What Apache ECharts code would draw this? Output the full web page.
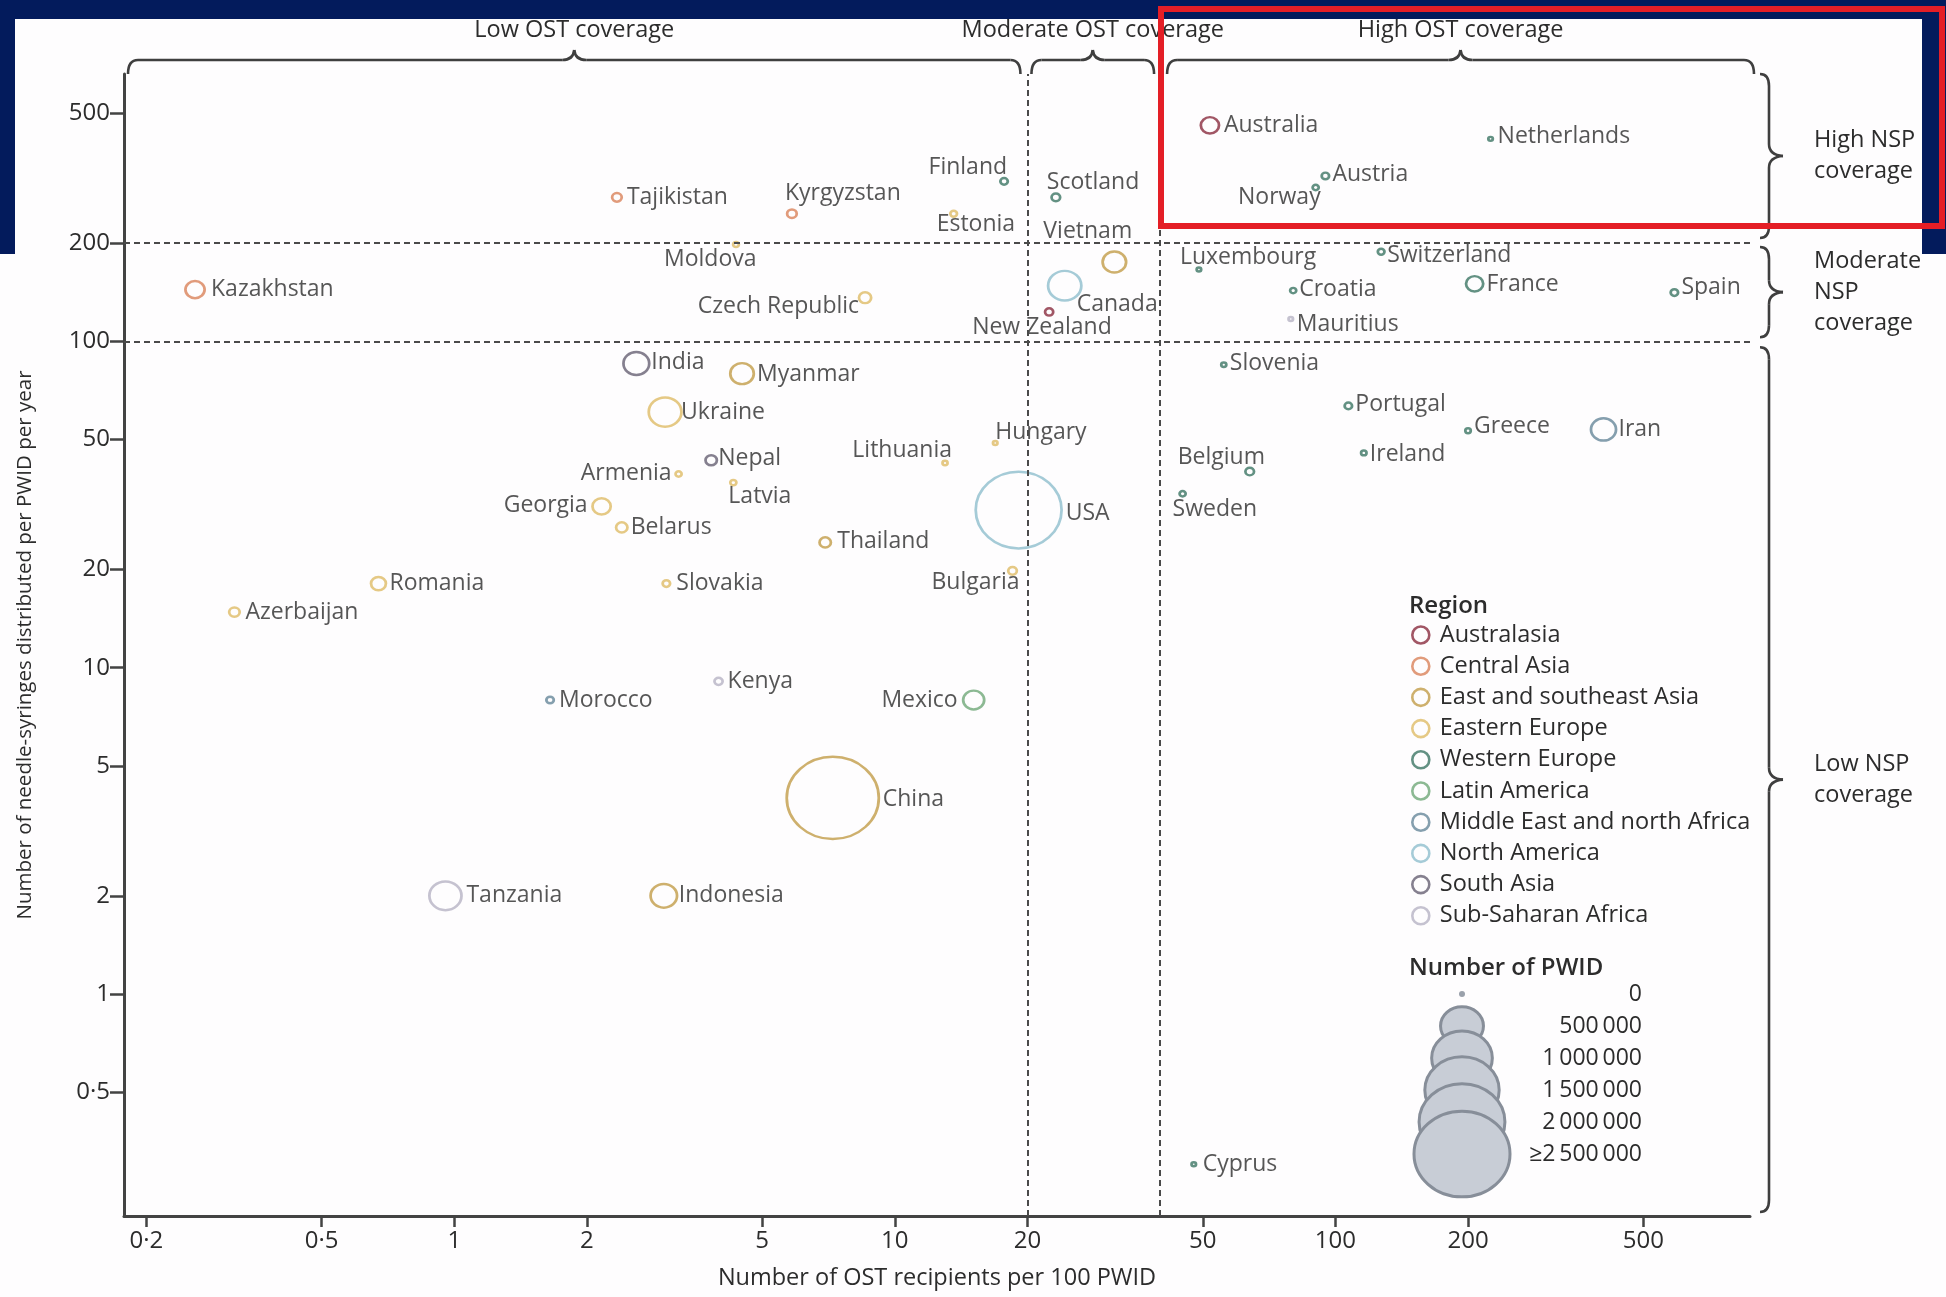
<!DOCTYPE html>
<html>
<head>
<meta charset="utf-8">
<script src="https://cdn.jsdelivr.net/npm/echarts@6/dist/echarts.min.js"></script>
<style>
  html, body { margin: 0; padding: 0; background: #fff; }
  #chart { width: 1946px; height: 1297px; }
</style>
</head>
<body>
<div id="chart"></div>
<script>
// Needle-syringe programme (NSP) coverage against opioid substitution therapy (OST) coverage, by country.

const countries = [
  'Tajikistan', 'Kyrgyzstan', 'Kazakhstan', 'Finland', 'Estonia', 'Moldova', 'Scotland', 'Vietnam',
  'Canada', 'New Zealand', 'Czech Republic', 'Australia', 'Netherlands', 'Austria', 'Norway',
  'Luxembourg', 'Switzerland', 'Croatia', 'France', 'Spain', 'Mauritius', 'Slovenia', 'Portugal',
  'Greece', 'Iran', 'Ireland', 'Belgium', 'Sweden', 'Cyprus', 'India', 'Myanmar', 'Ukraine', 'Nepal',
  'Armenia', 'Latvia', 'Lithuania', 'Hungary', 'Georgia', 'Belarus', 'USA', 'Thailand', 'Bulgaria',
  'Romania', 'Slovakia', 'Azerbaijan', 'Morocco', 'Kenya', 'Mexico', 'China', 'Tanzania', 'Indonesia'
];

// OST recipients per 100 PWID
const ostPer100 = [
  2.34, 5.84, 0.258, 17.7, 13.6, 4.36, 23.2, 31.5,
  24.3, 22.4, 8.56, 51.9, 225, 94.9, 90.2,
  49, 127, 80.2, 207, 588, 79.2, 55.8, 107,
  200, 406, 116, 63.9, 45.0, 47.7, 2.59, 4.50, 3.01, 3.83,
  3.23, 4.30, 13.0, 16.9, 2.16, 2.40, 19.1, 6.95, 18.5,
  0.673, 3.03, 0.317, 1.65, 3.98, 15.1, 7.23, 0.955, 2.99
];

// Needle-syringes distributed per PWID per year
const syringesPerPwid = [
  276, 246, 144, 309, 246, 198, 276, 175,
  148, 123, 136, 459, 417, 321, 296,
  166, 188, 143, 150, 141, 117, 84.7, 63.4,
  53.2, 53.7, 45.5, 39.9, 34.1, 0.301, 85.5, 79.6, 60.7, 43.2,
  39.2, 36.9, 42.4, 48.8, 31.2, 26.9, 30.4, 24.2, 19.8,
  18.1, 18.1, 14.8, 7.96, 9.08, 7.96, 3.99, 2.0, 2.0
];

// Estimated number of people who inject drugs
const pwidCount = [
  25000, 25000, 100000, 15000, 12000, 9000, 20000, 150000,
  300000, 18000, 40000, 90000, 5000, 15000, 10000,
  4000, 12000, 10000, 80000, 15000, 5000, 7000, 15000,
  8000, 170000, 8000, 20000, 10000, 5000, 180000, 150000, 290000, 35000,
  10000, 10000, 7000, 5000, 90000, 35000, 2000000, 35000, 20000,
  60000, 15000, 30000, 15000, 18000, 120000, 2300000, 280000, 190000
];

const countryRegion = [
  'Central Asia', 'Central Asia', 'Central Asia', 'Western Europe', 'Eastern Europe', 'Eastern Europe', 'Western Europe', 'East and southeast Asia',
  'North America', 'Australasia', 'Eastern Europe', 'Australasia', 'Western Europe', 'Western Europe', 'Western Europe',
  'Western Europe', 'Western Europe', 'Western Europe', 'Western Europe', 'Western Europe', 'Sub-Saharan Africa', 'Western Europe', 'Western Europe',
  'Western Europe', 'Middle East and north Africa', 'Western Europe', 'Western Europe', 'Western Europe', 'Western Europe', 'South Asia', 'East and southeast Asia', 'Eastern Europe', 'South Asia',
  'Eastern Europe', 'Eastern Europe', 'Eastern Europe', 'Eastern Europe', 'Eastern Europe', 'Eastern Europe', 'North America', 'East and southeast Asia', 'Eastern Europe',
  'Eastern Europe', 'Eastern Europe', 'Eastern Europe', 'Middle East and north Africa', 'Sub-Saharan Africa', 'Latin America', 'East and southeast Asia', 'Sub-Saharan Africa', 'East and southeast Asia'
];

const regions = [
  'Australasia', 'Central Asia', 'East and southeast Asia', 'Eastern Europe', 'Western Europe',
  'Latin America', 'Middle East and north Africa', 'North America', 'South Asia', 'Sub-Saharan Africa'
];

const xTicks = [0.2, 0.5, 1, 2, 5, 10, 20, 50, 100, 200, 500];
const yTicks = [0.5, 1, 2, 5, 10, 20, 50, 100, 200, 500];
const ostThresholds = [20, 40];
const nspThresholds = [100, 200];
const ostBands = ['Low OST coverage', 'Moderate OST coverage', 'High OST coverage'];
const nspBands = ['High NSP\ncoverage', 'Moderate\nNSP\ncoverage', 'Low NSP\ncoverage'];
const pwidLegendSteps = [0, 500000, 1000000, 1500000, 2000000, 2500000];
const pwidLegendLabels = ['0', '500\u2009000', '1\u2009000\u2009000', '1\u2009500\u2009000', '2\u2009000\u2009000', '\u22652\u2009500\u2009000'];

// ---- styling ----
const regionColors = ['#8a2c3e', '#d9825a', '#c29c48', '#dfbb66', '#3c7564', '#6fa878', '#67879a', '#8fbecd', '#666073', '#b6b3c4'];
const FONT = "'Open Sans', 'DejaVu Sans', sans-serif";
const TEXT = '#2c2c2c';
const INK = '#434343';
const ELLIPSE = 'path://M0,50A50,50 0 1,1 100,50A50,50 0 1,1 0,50Z';
const ASPECT = 1.12;

// label anchor: [align, dx, dy] relative to the bubble centre
const labelPlacement = {
  'Tajikistan': ['left', 10, 0], 'Kyrgyzstan': ['left', -7, -20], 'Kazakhstan': ['left', 16, 0],
  'Finland': ['right', 3, -14], 'Estonia': ['left', -17, 11], 'Moldova': ['left', -72, 15],
  'Scotland': ['left', -9, -15], 'Vietnam': ['left', -71, -31], 'Canada': ['left', 12, 19],
  'New Zealand': ['left', -77, 16], 'Czech Republic': ['right', -6, 9], 'Australia': ['left', 14, 0],
  'Netherlands': ['left', 7, -2], 'Austria': ['left', 7, -2], 'Norway': ['right', 5, 10],
  'Luxembourg': ['left', -19, -12], 'Switzerland': ['left', 6, 4], 'Croatia': ['left', 6, -1],
  'France': ['left', 12, 1], 'Spain': ['left', 7, -5], 'Mauritius': ['left', 6, 5],
  'Slovenia': ['left', 6, -1], 'Portugal': ['left', 7, -1], 'Greece': ['left', 6, -4],
  'Iran': ['left', 15, 0], 'Ireland': ['left', 6, 2], 'Belgium': ['left', -72, -14],
  'Sweden': ['left', -10, 16], 'Cyprus': ['left', 9, 0], 'India': ['left', 15, -1],
  'Myanmar': ['left', 15, 1], 'Ukraine': ['left', 16, 0], 'Nepal': ['left', 7, -2],
  'Armenia': ['right', -7, -1], 'Latvia': ['left', -5, 14], 'Lithuania': ['right', 7, -12],
  'Hungary': ['left', 0, -11], 'Georgia': ['right', -14, -1], 'Belarus': ['left', 9, 0],
  'USA': ['left', 47, 3], 'Thailand': ['left', 12, -1], 'Bulgaria': ['right', 7, 12],
  'Romania': ['left', 11, 0], 'Slovakia': ['left', 10, 0], 'Azerbaijan': ['left', 11, 0],
  'Morocco': ['left', 9, 0], 'Kenya': ['left', 9, 0], 'Mexico': ['right', -16, 0],
  'China': ['left', 50, 2], 'Tanzania': ['left', 21, 0], 'Indonesia': ['left', 15, 0]
};

// bubble width grows with the square root of the PWID count (capped at 2.5 million)
function bubbleWidth(n) {
  return Math.max(4.5, 96 * Math.sqrt(Math.min(n, 2500000) / 2500000));
}
function bubbleSize(n) {
  const w = bubbleWidth(n);
  return [w, w / ASPECT];
}

const regionSeries = regions.map((reg, ri) => ({
  type: 'scatter',
  name: reg,
  symbol: ELLIPSE,
  itemStyle: { color: 'rgba(255,255,255,0)', borderColor: regionColors[ri], borderWidth: 2.6 },
  emphasis: { disabled: true },
  label: {
    show: true, formatter: '{b}', position: 'inside', verticalAlign: 'middle',
    color: TEXT, fontFamily: FONT, fontSize: 23
  },
  data: countries.map((c, i) => i).filter(i => countryRegion[i] === reg).map(i => {
    const p = labelPlacement[countries[i]];
    return {
      name: countries[i],
      value: [ostPer100[i], syringesPerPwid[i], pwidCount[i]],
      symbolSize: bubbleSize(pwidCount[i]),
      label: { align: p[0], offset: [p[1], p[2]] }
    };
  })
}));

// dashed threshold lines
const thresholdSeries = {
  type: 'scatter', name: 'thresholds', data: [], silent: true,
  markLine: {
    silent: true, symbol: 'none', animation: false,
    label: { show: false },
    lineStyle: { type: [6, 4], color: '#4a4a4a', width: 2 },
    data: nspThresholds.map(v => ({ yAxis: v })).concat(ostThresholds.map(v => ({ xAxis: v })))
  }
};

const fmtTick = v => String(v).replace('.', '\u00b7');

const chart = echarts.init(document.getElementById('chart'), null, { renderer: 'canvas' });

chart.setOption({
  backgroundColor: '#fefdfe',
  animation: false,
  grid: { left: 124, right: 196, top: 74, bottom: 81, containLabel: false, outerBoundsMode: 'none' },
  xAxis: {
    type: 'log', logBase: 10, min: 0.178, max: 873,
    name: 'Number of OST recipients per 100 PWID', nameLocation: 'middle', nameGap: 50,
    nameTextStyle: { color: TEXT, fontFamily: FONT, fontSize: 23.5 },
    axisLine: { show: true, lineStyle: { color: INK, width: 3 } },
    axisTick: { show: true, length: 11, lineStyle: { color: INK, width: 2.5 }, customValues: xTicks },
    axisLabel: { color: TEXT, fontFamily: FONT, fontSize: 24, margin: 13, customValues: xTicks, formatter: fmtTick },
    splitLine: { show: false }, minorTick: { show: false }
  },
  yAxis: {
    type: 'log', logBase: 10, min: 0.209, max: 659,
    name: 'Number of needle-syringes distributed per PWID per year', nameLocation: 'middle', nameGap: 88,
    nameTextStyle: { color: TEXT, fontFamily: FONT, fontSize: 20.5 },
    axisLine: { show: true, lineStyle: { color: INK, width: 3 } },
    axisTick: { show: true, length: 14, lineStyle: { color: INK, width: 2.5 }, customValues: yTicks },
    axisLabel: { color: TEXT, fontFamily: FONT, fontSize: 24, margin: 14, customValues: yTicks, formatter: fmtTick },
    splitLine: { show: false }, minorTick: { show: false }
  },
  legend: {
    data: regions, orient: 'vertical', left: 1411, top: 623, padding: 0,
    itemWidth: 20, itemHeight: 17, itemGap: 7.2, icon: ELLIPSE, selectedMode: false,
    itemStyle: { borderWidth: 2.6 },
    textStyle: { color: TEXT, fontFamily: FONT, fontSize: 23.5, padding: [0, 0, 0, 4] }
  },
  series: regionSeries.concat([thresholdSeries])
});

// ---- annotations: braces, band titles, size key, frame ----
const px = (x, y) => chart.convertToPixel({ gridIndex: 0 }, [x, y]);
const braceStyle = { stroke: '#3f3f3f', lineWidth: 2.6, fill: null };

function line(x1, y1, x2, y2) {
  return { type: 'line', shape: { x1, y1, x2, y2 }, style: braceStyle, silent: true };
}
function curve(x1, y1, cx, cy, x2, y2) {
  return { type: 'bezierCurve', shape: { x1, y1, x2, y2, cpx1: cx, cpy1: cy }, style: braceStyle, silent: true };
}
// horizontal brace with its tip pointing up
function hBrace(x1, x2, y) {
  const xm = (x1 + x2) / 2, c = 10, drop = 14, tip = 10;
  return [
    curve(x1, y + drop, x1, y, x1 + c, y),
    line(x1 + c, y, xm - 12, y),
    curve(xm - 12, y, xm - 1, y, xm, y - tip),
    curve(xm, y - tip, xm + 1, y, xm + 12, y),
    line(xm + 12, y, x2 - c, y),
    curve(x2 - c, y, x2, y, x2, y + drop)
  ];
}
// vertical brace with its tip pointing right
function vBrace(x, y1, y2) {
  const ym = (y1 + y2) / 2, c = 12, back = 9, tip = 14;
  return [
    curve(x - back, y1, x, y1, x, y1 + c),
    line(x, y1 + c, x, ym - 12),
    curve(x, ym - 12, x, ym - 1, x + tip, ym),
    curve(x + tip, ym, x, ym + 1, x, ym + 12),
    line(x, ym + 12, x, y2 - c),
    curve(x, y2 - c, x, y2, x - back, y2)
  ];
}
function label(text, x, y, align, size, weight, lh) {
  return {
    type: 'text', silent: true,
    style: {
      text, x, y, align, textAlign: align, verticalAlign: 'middle', textVerticalAlign: 'middle',
      fill: TEXT, fontFamily: FONT, fontSize: size, fontWeight: weight || 'normal', lineHeight: lh || size
    }
  };
}

const [gx0, gyBottom] = px(0.178, 0.209);
const [gx1, gyTop] = px(873, 659);
const xLow = px(ostThresholds[0], 1)[0];
const xHigh = px(ostThresholds[1], 1)[0];
const yMid = px(1, nspThresholds[0])[1];
const yUp = px(1, nspThresholds[1])[1];

const braceY = gyTop - 14;
const topSpans = [[gx0 + 4, xLow - 7], [xLow + 4, xHigh - 6], [xHigh + 7, gx1 + 4]];
const braceX = gx1 + 19;
const sideSpans = [[gyTop, yUp - 5], [yUp + 4, yMid - 4], [yMid + 6, gyBottom - 4]];

let graphics = [];
topSpans.forEach((s, i) => {
  graphics = graphics.concat(hBrace(s[0], s[1], braceY));
  graphics.push(label(ostBands[i], (s[0] + s[1]) / 2, 30, 'center', 23.5));
});
sideSpans.forEach((s, i) => {
  graphics = graphics.concat(vBrace(braceX, s[0], s[1]));
  graphics.push(label(nspBands[i], braceX + 45, (s[0] + s[1]) / 2, 'left', 23.5, 'normal', 31));
});

// legend headers
graphics.push(label('Region', 1409, 606, 'left', 24, 600));
graphics.push(label('Number of PWID', 1409, 968, 'left', 24, 600));

// size key: stacked ellipses, larger ones drawn on top
const keyX = 1462, keyY0 = 994, keyStep = 32;
pwidLegendSteps.forEach((n, i) => {
  const cy = keyY0 + i * keyStep;
  if (n === 0) {
    graphics.push({ type: 'circle', silent: true, shape: { cx: keyX, cy, r: 3 }, style: { fill: '#9aa1ab' } });
  } else {
    const w = bubbleWidth(n);
    graphics.push({
      type: 'ellipse', silent: true, z: 10 + i,
      shape: { cx: keyX, cy, rx: w / 2, ry: w / ASPECT / 2 },
      style: { fill: '#c8cdd6', stroke: '#878e99', lineWidth: 3 }
    });
  }
  graphics.push(label(pwidLegendLabels[i], 1642, cy, 'right', 23));
});

// outer frame bands and highlight box
const NAVY = '#031b5c';
graphics.push({ type: 'rect', silent: true, z: 200, shape: { x: 0, y: 0, width: 1946, height: 19 }, style: { fill: NAVY } });
graphics.push({ type: 'rect', silent: true, z: 200, shape: { x: 0, y: 0, width: 15, height: 254 }, style: { fill: NAVY } });
graphics.push({ type: 'rect', silent: true, z: 200, shape: { x: 1922, y: 0, width: 24, height: 254 }, style: { fill: NAVY } });
graphics.push({ type: 'rect', silent: true, z: 210, shape: { x: 1161, y: 9, width: 781, height: 217 }, style: { fill: null, stroke: '#e41e26', lineWidth: 6 } });

chart.setOption({ graphic: { elements: graphics } });
</script>
</body>
</html>
